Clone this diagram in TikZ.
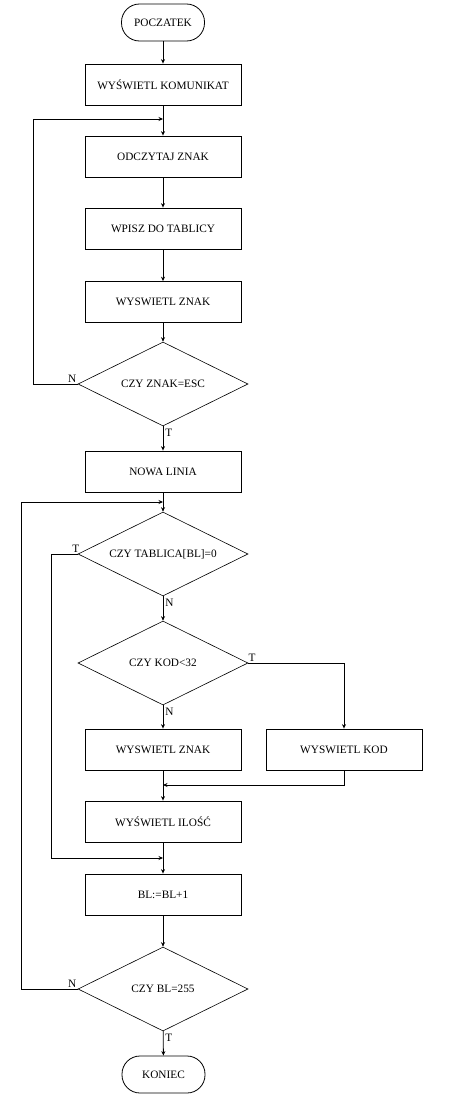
\documentclass[tikz,border=0pt]{standalone}
\usepackage{fontspec}
\setmainfont{Liberation Serif}
\usetikzlibrary{shapes.geometric,arrows.meta}

\begin{document}
\begin{tikzpicture}[x=1pt, y=-1pt, line width=0.8pt,
    >={Stealth[length=4.5pt,width=4pt]},
    txt/.style={font=\fontsize{11.3}{13}\selectfont},
    box/.style={txt, draw, rectangle, minimum width=156pt, minimum height=41pt, inner sep=0pt},
    term/.style={txt, draw, rectangle, rounded corners=18pt, minimum width=83pt, minimum height=37pt, inner sep=0pt},
    test/.style={txt, draw, diamond, aspect=2, minimum width=170pt, minimum height=84pt, inner sep=0pt, line width=0.6pt},
    lbl/.style={txt, inner sep=1pt}]
    \useasboundingbox (0,0) rectangle (450,1100);
    % Define coordinates for key points for easier adjustments
    \coordinate (start pos) at (163,22.5);
    \coordinate (msg pos) at (163,84.5);
    \coordinate (read pos) at (163,156.5);
    \coordinate (store pos) at (163,228.5);
    \coordinate (echo pos) at (163,302);
    \coordinate (esc pos) at (163,384);
    \coordinate (newline pos) at (163,471.5);
    \coordinate (zero pos) at (163,554);
    \coordinate (code test pos) at (163,663);
    \coordinate (char pos) at (163,749.5);
    \coordinate (code pos) at (344,749.5);
    \coordinate (count pos) at (163,821.5);
    \coordinate (incr pos) at (163,894.5);
    \coordinate (last pos) at (163,989);
    \coordinate (end pos) at (163.5,1074.5);
    % Junctions of the loop lines
    \coordinate (first join) at (163,119);
    \coordinate (second join) at (163,502);
    \coordinate (third join) at (163,785);
    \coordinate (fourth join) at (163,858);

    % Blocks
    \node[term] (start) at (start pos) {POCZATEK};
    \node[box] (msg) at (msg pos) {WYŚWIETL KOMUNIKAT};
    \node[box] (read) at (read pos) {ODCZYTAJ ZNAK};
    \node[box] (store) at (store pos) {WPISZ DO TABLICY};
    \node[box] (echo) at (echo pos) {WYSWIETL ZNAK};
    \node[test] (esc) at (esc pos) {CZY ZNAK=ESC};
    \node[box] (newline) at (newline pos) {NOWA LINIA};
    \node[test] (zero) at (zero pos) {CZY TABLICA[BL]=0};
    \node[test] (code test) at (code test pos) {CZY KOD<32};
    \node[box] (char) at (char pos) {WYSWIETL ZNAK};
    \node[box] (code) at (code pos) {WYSWIETL KOD};
    \node[box] (count) at (count pos) {WYŚWIETL ILOŚĆ};
    \node[box] (incr) at (incr pos) {BL:=BL+1};
    \node[test] (last) at (last pos) {CZY BL=255};
    \node[term] (end) at (end pos) {KONIEC};

    % Main line
    \draw[->] (start) -- (msg);
    \draw[->] (msg) -- (read);
    \draw[->] (read) -- (store);
    \draw[->] (store) -- (echo);
    \draw[->] (echo) -- (esc);
    \draw[->] (esc) -- (newline);
    \draw[->] (newline) -- (zero);
    \draw[->] (zero) -- (code test);
    \draw[->] (code test) -- (char);
    \draw[->] (char) -- (count);
    \draw[->] (count) -- (incr);
    \draw[->] (incr) -- (last);
    \draw[->] (last) -- (end);
    % Loops and branches
    \draw[->] (esc.west) -- (33,384) |- (first join);
    \draw[->] (last.west) -- (21,989) |- (second join);
    \draw[->] (zero.west) -- (51,554) |- (fourth join);
    \draw[->] (code test.east) -| (code.north);
    \draw[->] (code.south) |- (third join);

    % Answers
    \node[lbl, anchor=south east] (esc no) at (esc.west) {N};
    \node[lbl, anchor=north west, inner sep=2pt] (esc yes) at (esc.south) {T};
    \node[lbl, anchor=south east, xshift=3pt] (zero yes) at (zero.west) {T};
    \node[lbl, anchor=north west, inner sep=2pt] (zero no) at (zero.south) {N};
    \node[lbl, anchor=south west, xshift=-1pt] (code yes) at (code test.east) {T};
    \node[lbl, anchor=north west, inner sep=2pt] (code no) at (code test.south) {N};
    \node[lbl, anchor=south east] (last no) at (last.west) {N};
    \node[lbl, anchor=north west, inner sep=2pt] (last yes) at (last.south) {T};
\end{tikzpicture}
\end{document}
